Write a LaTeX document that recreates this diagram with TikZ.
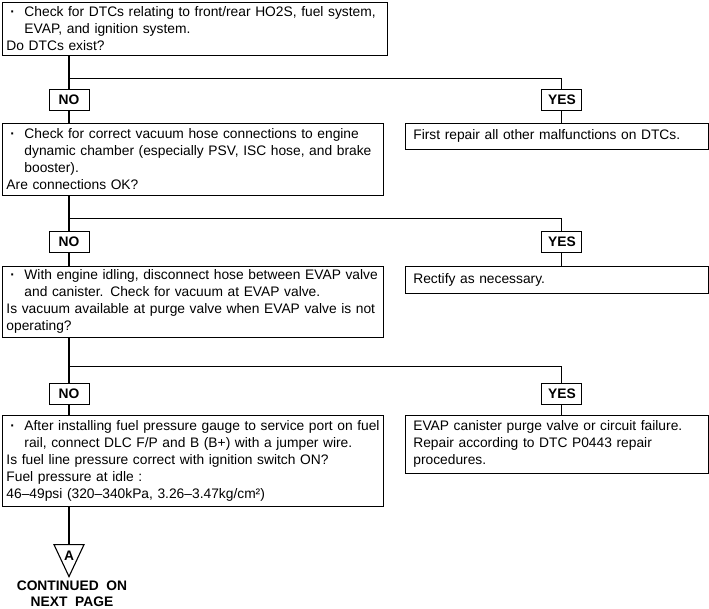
\documentclass[tikz,border=0pt]{standalone}
\usepackage{fontspec}
\setmainfont{Liberation Sans}
\usetikzlibrary{positioning,calc}
\newcommand{\bulletline}[1]{\hbox to\hsize{\makebox[18pt][l]{\hspace{4pt}{\bfseries ·}}#1\hss}}
\newcommand{\hangline}[1]{\hbox to\hsize{\hspace*{18pt}#1\hss}}
\newcommand{\plainline}[1]{\hbox to\hsize{#1\hss}}

\begin{document}
\begin{tikzpicture}[x=1pt, y=1pt, node distance=14pt,
  qbox/.style={draw, line width=0.9pt, inner xsep=4pt, inner ysep=0pt, text width=#1,
    font=\fontsize{13.8}{17}\selectfont},
  abox/.style={draw, line width=0.9pt, inner xsep=8pt, inner ysep=0pt, text width=287pt, align=left,
    font=\fontsize{13.8}{17}\selectfont},
  tag/.style={draw, line width=0.9pt, minimum width=40pt, minimum height=21pt, inner sep=0pt,
    font=\bfseries\fontsize{13.8}{17}\selectfont},
  link/.style={line width=1.1pt}]
  \useasboundingbox (0,0) rectangle (709,-608);

  % question boxes
  \node[qbox=377pt, minimum height=53pt, anchor=north west] (q1) at (2,-2)
    {\bulletline{Check for DTCs relating to front/rear HO2S, fuel system,}
     \hangline{EVAP, and ignition system.}
     \plainline{Do DTCs exist?}};
  \node[qbox=373pt, minimum height=72pt, below=67pt of q1.south west, anchor=north west] (q2)
    {\bulletline{Check for correct vacuum hose connections to engine}
     \hangline{dynamic chamber (especially PSV, ISC hose, and brake}
     \hangline{booster).}
     \plainline{Are connections OK?}};
  \node[qbox=373pt, minimum height=71pt, below=70pt of q2.south west, anchor=north west] (q3)
    {\bulletline{With engine idling, disconnect hose between EVAP valve}
     \hangline{and canister. Check for vacuum at EVAP valve.}
     \plainline{Is vacuum available at purge valve when EVAP valve is not}
     \plainline{operating?}};
  \node[qbox=373pt, minimum height=91pt, below=77pt of q3.south west, anchor=north west] (q4)
    {\bulletline{After installing fuel pressure gauge to service port on fuel}
     \hangline{rail, connect DLC F/P and B (B+) with a jumper wire.}
     \plainline{Is fuel line pressure correct with ignition switch ON?}
     \plainline{Fuel pressure at idle :}
     \plainline{46--49psi (320--340kPa, 3.26--3.47kg/cm²)}};

  % answer boxes
  \node[abox, minimum height=26pt, right=21pt of q2.north east, anchor=north west] (r1)
    {First repair all other malfunctions on DTCs.};
  \node[abox, minimum height=27pt, right=21pt of q3.north east, anchor=north west] (r2)
    {Rectify as necessary.};
  \node[abox, minimum height=58pt, right=21pt of q4.north east, anchor=north west] (r3)
    {EVAP canister purge valve or circuit failure.\\Repair according to DTC P0443 repair\\procedures.};

  % branch points and NO/YES tags
  \coordinate[below right=23pt and 67pt of q1.south west] (h1);
  \coordinate[below right=23pt and 67pt of q2.south west] (h2);
  \coordinate[below right=29pt and 67pt of q3.south west] (h3);
  \node[tag, below=10pt of h1] (n1) {NO};
  \node[tag, below=12pt of h2] (n2) {NO};
  \node[tag, below=16pt of h3] (n3) {NO};
  \node[tag, right=452pt of n1] (y1) {YES};
  \node[tag, right=452pt of n2] (y2) {YES};
  \node[tag, right=452pt of n3] (y3) {YES};

  \draw[link] (q1.south -| h1) -- (n1);
  \draw[link] (n1) -- (n1 |- q2.north);
  \draw[link] (h1) -| (y1);
  \draw[link] (y1) -- (y1 |- r1.north);

  \draw[link] (q2.south -| h2) -- (n2);
  \draw[link] (n2) -- (n2 |- q3.north);
  \draw[link] (h2) -| (y2);
  \draw[link] (y2) -- (y2 |- r2.north);

  \draw[link] (q3.south -| h3) -- (n3);
  \draw[link] (n3) -- (n3 |- q4.north);
  \draw[link] (h3) -| (y3);
  \draw[link] (y3) -- (y3 |- r3.north);

  % off-page connector
  \node[inner sep=0pt, font=\bfseries\fontsize{13.8}{17}\selectfont] (pa) at ($(q4.south -| h1)+(0,-49)$) {A};
  \coordinate (atop) at ($(pa)+(0,11)$);
  \coordinate (atip) at ($(pa)+(0,-21)$);
  \draw[link] (q4.south -| h1) -- (atop);
  \draw[link, line join=miter] ($(atop)+(-15,0)$) -- ($(atop)+(15,0)$) -- (atip) -- cycle;
  \node[inner sep=0pt, align=center, font=\bfseries\fontsize{13.8}{16}\selectfont,
    below=4pt of atip, xshift=3pt] (cont) {CONTINUED\ \ ON\\NEXT\ \ PAGE};
\end{tikzpicture}
\end{document}
